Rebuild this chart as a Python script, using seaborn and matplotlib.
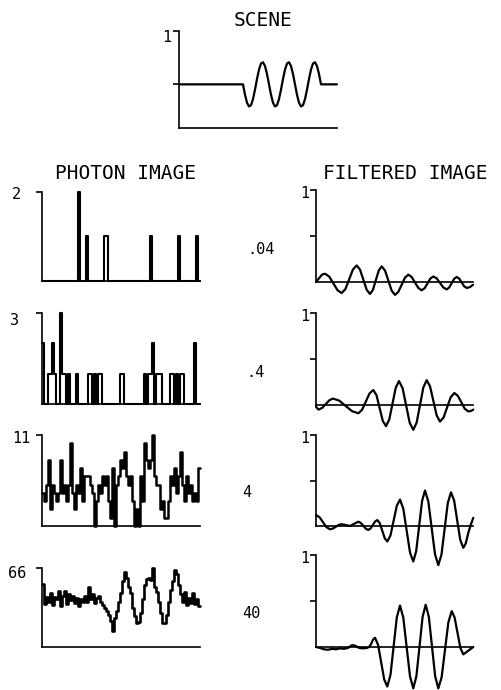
import matplotlib
matplotlib.use("Agg")
import matplotlib.pyplot as plt
import seaborn as sns

# ---------------- data ----------------
# scene (luminance profile); x in image position units (0..158)
scene_x = [0] + list(range(64, 143, 2)) + [158]
scene_y = [0.45, 0.45,
           0.343, 0.261, 0.222, 0.235, 0.298, 0.395, 0.505, 0.602, 0.665, 0.678, 0.639, 0.557,
           0.45,
           0.343, 0.261, 0.222, 0.235, 0.298, 0.395, 0.505, 0.602, 0.665, 0.678, 0.639, 0.557,
           0.45,
           0.343, 0.261, 0.222, 0.235, 0.298, 0.395, 0.505, 0.602, 0.665, 0.678, 0.639, 0.557,
           0.45, 0.45]

# photon images: photon counts per pixel (79 pixels, 2 units wide each)
bin_edges = list(range(0, 158, 2))
photon_max = [2, 3, 11, 66]
photon_1 = [0, 0, 0, 0, 0, 0, 0, 0, 0, 0,
            0, 0, 0, 0, 0, 0, 0, 0, 2, 0,
            0, 0, 1, 0, 0, 0, 0, 0, 0, 0,
            0, 1, 1, 0, 0, 0, 0, 0, 0, 0,
            0, 0, 0, 0, 0, 0, 0, 0, 0, 0,
            0, 0, 0, 0, 1, 0, 0, 0, 0, 0,
            0, 0, 0, 0, 0, 0, 0, 0, 1, 0,
            0, 0, 0, 0, 0, 0, 0, 1, 0]
photon_2 = [2, 0, 0, 1, 1, 2, 1, 0, 0, 3,
            1, 1, 0, 1, 0, 0, 0, 1, 0, 0,
            0, 0, 0, 1, 1, 0, 1, 0, 1, 1,
            0, 0, 0, 0, 0, 0, 0, 0, 0, 1,
            1, 0, 0, 0, 0, 0, 0, 0, 0, 0,
            0, 1, 0, 1, 1, 2, 0, 1, 1, 1,
            0, 0, 0, 0, 1, 1, 0, 1, 0, 1,
            1, 0, 0, 0, 0, 0, 2, 0, 0]
photon_3 = [4, 3, 5, 8, 2, 5, 4, 3, 4, 8,
            4, 5, 3, 5, 10, 4, 2, 5, 4, 7,
            3, 6, 6, 6, 5, 4, 0, 3, 5, 4,
            6, 5, 6, 3, 1, 7, 0, 5, 6, 8,
            7, 9, 6, 5, 6, 3, 0, 2, 0, 6,
            3, 10, 8, 7, 8, 11, 6, 5, 5, 2,
            3, 1, 1, 3, 6, 5, 7, 4, 6, 9,
            5, 3, 6, 4, 5, 3, 4, 3, 7]
photon_4 = [53, 36, 42, 38, 45, 35, 42, 40, 47, 34,
            43, 47, 36, 44, 39, 43, 37, 41, 34, 40,
            38, 43, 38, 50, 40, 44, 37, 41, 43, 38,
            35, 33, 30, 27, 22, 13, 24, 30, 38, 45,
            55, 63, 58, 50, 45, 33, 26, 20, 21, 28,
            40, 52, 57, 58, 56, 66, 50, 46, 38, 28,
            20, 20, 27, 38, 48, 55, 64, 61, 52, 44,
            38, 46, 35, 41, 37, 45, 36, 40, 34]

# mean photons per pixel
mean_labels = [".04", ".4", "4", "40"]

# filtered images (response, scale 0..1)
filt1_x = [0, 3, 6, 9, 13.2, 17.35, 21.5, 25.7, 29.45, 33.2, 36.95, 40.7, 44.0, 47.35, 50.7, 54,
           56.9, 59.85, 62.8, 65.7, 69.0, 72.35, 75.7, 79, 82.3, 85.65, 89.0, 92.3, 95.65, 99.0,
           102.35, 105.7, 108.6, 111.5, 114.4, 117.3, 120.65, 124.0, 127.35, 130.7, 133.2, 135.7,
           138.2, 140.7, 143.2, 145.7, 148.2, 150.7, 154, 157]
filt1_y = [0.0, 0.04, 0.08, 0.09, 0.059, -0.015, -0.089, -0.12, -0.076, 0.03, 0.136, 0.18, 0.135,
           0.025, -0.085, -0.13, -0.086, 0.02, 0.126, 0.17, 0.125, 0.015, -0.095, -0.14, -0.108,
           -0.03, 0.048, 0.08, 0.055, -0.005, -0.065, -0.09, -0.068, -0.015, 0.038, 0.06, 0.04,
           -0.01, -0.06, -0.08, -0.06, -0.012, 0.035, 0.055, 0.037, -0.005, -0.047, -0.065,
           -0.055, -0.03]
filt2_x = [0, 2.5, 6.1, 9.75, 13.4, 17, 23.3, 29.65, 36, 42.3, 46.05, 49.8, 53.55, 57.3, 60.5,
           63.65, 66.8, 70, 73.25, 76.5, 79.75, 83, 86.6, 90.15, 93.7, 97.3, 100.65, 104, 107.35,
           110.7, 114.0, 117.35, 120.7, 124, 127.6, 131.15, 134.7, 138.3, 141.8, 145.3, 148.8,
           152.3, 155, 157.3]
filt2_y = [-0.02, -0.05, -0.032, 0.01, 0.052, 0.07, 0.047, -0.01, -0.067, -0.09, -0.053, 0.037,
           0.126, 0.163, 0.106, -0.034, -0.173, -0.23, -0.158, 0.015, 0.188, 0.26, 0.183, -0.005,
           -0.193, -0.27, -0.191, 0.0, 0.191, 0.27, 0.204, 0.045, -0.114, -0.18, -0.135, -0.025,
           0.085, 0.13, 0.101, 0.03, -0.041, -0.07, -0.065, -0.05]
filt3_x = [0, 3.5, 7, 10.5, 14, 16.9, 19.85, 22.8, 25.7, 29.85, 34, 38.15, 42.3, 44.8, 47.3, 49.8,
           52.3, 54.55, 56.8, 59.05, 61.3, 63.8, 66.3, 68.8, 71.3, 74.5, 77.65, 80.8, 84, 87.3,
           90.65, 94, 97.3, 100.2, 103.15, 106.1, 109, 112.3, 115.65, 119, 122.3, 125.5, 128.65,
           131.8, 135, 138.1, 141.15, 144.2, 147.3, 149.8, 152.3, 155, 157.3]
filt3_y = [0.12, 0.097, 0.042, -0.013, -0.036, -0.028, -0.008, 0.012, 0.02, 0.01, 0.0, 0.024,
           0.047, 0.034, 0.002, -0.03, -0.043, -0.027, 0.011, 0.049, 0.065, 0.031, -0.053, -0.136,
           -0.17, -0.103, 0.06, 0.223, 0.29, 0.191, -0.05, -0.291, -0.39, -0.276, 0.0, 0.276,
           0.39, 0.27, -0.02, -0.31, -0.43, -0.313, -0.03, 0.253, 0.37, 0.281, 0.065, -0.151,
           -0.24, -0.19, -0.075, 0.02, 0.09]
filt4_x = [0, 4, 8, 12, 16, 20, 24, 28, 32, 36, 39, 43, 47, 51, 53, 55, 57, 59, 62.1, 65.15, 68.2,
           71.3, 74.5, 77.65, 80.8, 84, 87.3, 90.65, 94, 97.3, 100.4, 103.5, 106.6, 109.7, 112.85,
           116, 119.15, 122.3, 125.65, 129, 132.35, 135.7, 138.6, 141.5, 144.4, 147.3, 152.3, 157.3]
filt4_y = [0.0, -0.01, -0.025, -0.03, -0.02, -0.025, -0.015, -0.02, -0.01, 0.02, 0.015, -0.01,
           -0.015, -0.01, 0.0, 0.03, 0.08, 0.1, 0.023, -0.165, -0.353, -0.43, -0.302, 0.01, 0.322,
           0.45, 0.319, 0.0, -0.319, -0.45, -0.317, 0.005, 0.327, 0.46, 0.327, 0.005, -0.317,
           -0.45, -0.327, -0.03, 0.267, 0.39, 0.321, 0.155, -0.011, -0.08, -0.04, 0.0]

# ---------------- style ----------------
W, H = 501, 690
LW = 1.6
SPW = 1.2
sns.set_theme(style="ticks", rc={"axes.linewidth": SPW, "ytick.major.width": SPW,
                                 "ytick.major.size": 4, "axes.edgecolor": "black",
                                 "ytick.color": "black"})
plt.rcParams['font.family'] = ['DejaVu Sans Mono', 'DejaVu Sans']

fig = plt.figure(figsize=(W / 100, H / 100), dpi=100)
fig.patch.set_facecolor("white")


def px_axes(l, t, r, b):
    ax = fig.add_axes([l / W, 1 - b / H, (r - l) / W, (b - t) / H])
    ax.patch.set_alpha(0)
    for s in ("top", "right"):
        ax.spines[s].set_visible(False)
    ax.set_xticks([])
    return ax


def ftext(x, cy, s, size, ha="left"):
    base = cy + 0.506 * size
    fig.text(x / W, 1 - base / H, s, fontsize=size, ha=ha, va="baseline", color="black")


# ---------------- scene ----------------
ax = px_axes(179, 31, 337, 128)
sns.lineplot(x=scene_x, y=scene_y, ax=ax, color="black", lw=LW, estimator=None, clip_on=False)
ax.set_xlim(0, 158)
ax.set_ylim(0, 1)
ax.set_yticks([0.45, 1])
ax.set_yticklabels([])
ax.set(xlabel="", ylabel="")
ftext(171, 36, "1", 11, ha="right")
ftext(263, 19, "SCENE", 14, ha="center")

# ---------------- photon images ----------------
photon_sets = [photon_1, photon_2, photon_3, photon_4]
photon_lw = [1.5, 1.5, 1.8, 1.9]
photon_boxes = [(192, 281), (313, 404), (435, 526), (568, 647)]
photon_lab_pos = [(12, 193), (10, 319), (12, 437), (8, 572)]
for vals, ymax, lwp, (t, b), (lx, ly) in zip(photon_sets, photon_max, photon_lw,
                                              photon_boxes, photon_lab_pos):
    ax = px_axes(42, t, 200, b)
    # steps-post: repeat the last pixel value so the last pixel gets its full width
    sns.lineplot(x=bin_edges + [158], y=vals + [vals[-1]], ax=ax, color="black", lw=lwp,
                 estimator=None, drawstyle="steps-post", clip_on=False)
    ax.set_xlim(0, 158)
    ax.set_ylim(0, ymax)
    ax.set_yticks([ymax])
    ax.set_yticklabels([])
    ax.set(xlabel="", ylabel="")
    ftext(lx, ly, str(ymax), 11)
ftext(126, 171.5, "PHOTON IMAGE", 14, ha="center")

# ---------------- filtered images ----------------
filt_sets = [(filt1_x, filt1_y), (filt2_x, filt2_y), (filt3_x, filt3_y), (filt4_x, filt4_y)]
filt_boxes = [(190, 282), (313, 405), (435, 526), (555, 647)]
mean_pos = [(247, 248), (246, 371.5), (242, 491), (242, 612)]
for (fx, fy), (t, z), lab, (mx, my) in zip(filt_sets, filt_boxes, mean_labels, mean_pos):
    b = z + 0.5 * (z - t)
    ax = px_axes(316, t, 473, b)
    sns.lineplot(x=fx, y=fy, ax=ax, color="black", lw=LW, estimator=None, clip_on=False)
    ax.set_xlim(0, 157)
    ax.set_ylim(-0.5, 1)
    ax.spines["left"].set_bounds(0, 1)
    ax.spines["bottom"].set_position(("data", 0))
    ax.set_yticks([0.5, 1])
    ax.set_yticklabels([])
    ax.set(xlabel="", ylabel="")
    ftext(309, t + 2, "1", 11, ha="right")
    ftext(mx, my, lab, 11)
ftext(405, 171.5, "FILTERED IMAGE", 14, ha="center")

fig.savefig("out.png", dpi=100, facecolor="white")
